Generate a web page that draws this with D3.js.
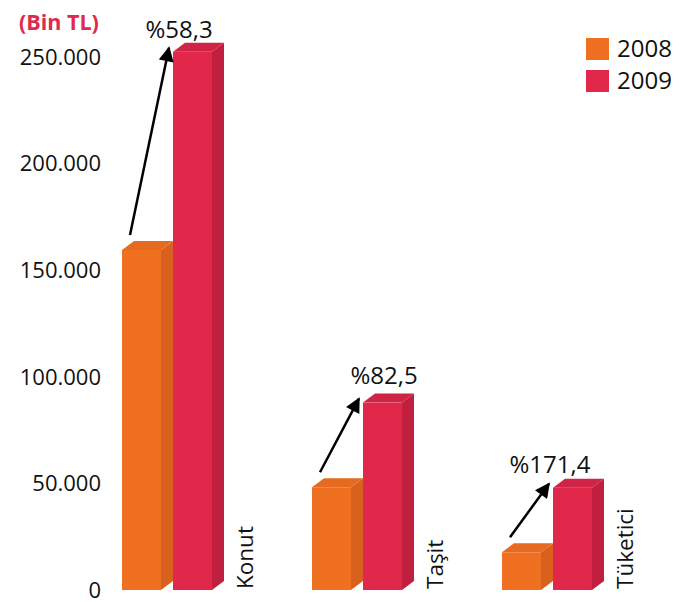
<!DOCTYPE html>
<html lang="tr">
<head>
    <meta charset="UTF-8">
    <title>Krediler</title>
    <script src="https://d3js.org/d3.v7.min.js"></script>
    <style>
        body { margin: 0; background: #fff; }
        text { font-family: "Open Sans", sans-serif; fill: #111; }
    </style>
</head>
<body>
    <svg id="chart" width="680" height="602"></svg>

    <script>
        // values in thousand TL
        const categories = ["Konut", "Taşit", "Tüketici"];
        const years = ["2008", "2009"];
        const values2008 = [159500, 48200, 17700];
        const values2009 = [252500, 87900, 48000];
        const changeLabels = ["%58,3", "%82,5", "%171,4"];
        const yTicks = [0, 50000, 100000, 150000, 200000, 250000];

        // small nudges for the growth labels
        const labelDx = [6, 21, -3];
        const labelDy = [-14, -19, -15];

        const colors = {
            "2008": { front: "#f07022", side: "#d8621d", top: "#e66a1f" },
            "2009": { front: "#e2284a", side: "#c01f3f", top: "#cf2445" }
        };

        const svg = d3.select("#chart");
        const baseY = 590;
        const depthX = 12, depthY = -9;

        const y = d3.scaleLinear().domain([0, 250000]).range([baseY, 57]);
        const x0 = d3.scaleBand().domain(categories).range([122, 122 + 3 * 190]).padding(0);
        const x1 = d3.scaleBand().domain(years).range([0, 102]).padding(0);
        const barW = x1.bandwidth() - depthX;

        const tr = d3.formatLocale({ decimal: ",", thousands: ".", grouping: [3], currency: ["", ""] });
        const fmt = tr.format(",d");

        // y labels
        svg.append("g").selectAll("text").data(yTicks).join("text")
            .attr("x", 101)
            .attr("y", d => y(d))
            .attr("dy", "0.35em")
            .attr("text-anchor", "end")
            .style("font-size", "22px")
            .text(d => fmt(d));

        svg.append("text")
            .attr("x", 19)
            .attr("y", 30)
            .style("font-size", "21.5px")
            .style("font-weight", "bold")
            .style("fill", "#e0294c")
            .text("(Bin TL)");

        const rows = categories.map((c, i) => ({
            cat: c,
            bars: [
                { year: "2008", value: values2008[i] },
                { year: "2009", value: values2009[i] }
            ]
        }));

        const groups = svg.append("g").selectAll("g").data(rows).join("g")
            .attr("transform", d => `translate(${x0(d.cat)},0)`);

        const bars = groups.selectAll("g.bar").data(d => d.bars).join("g")
            .attr("class", "bar");

        // side face
        bars.append("path")
            .attr("d", d => {
                const xl = x1(d.year) + barW, yt = y(d.value);
                return `M${xl},${yt}L${xl + depthX},${yt + depthY}L${xl + depthX},${baseY + depthY}L${xl},${baseY}Z`;
            })
            .style("fill", d => colors[d.year].side);

        // top face
        bars.append("path")
            .attr("d", d => {
                const xl = x1(d.year), yt = y(d.value);
                return `M${xl},${yt}L${xl + barW},${yt}L${xl + barW + depthX},${yt + depthY}L${xl + depthX},${yt + depthY}Z`;
            })
            .style("fill", d => colors[d.year].top);

        // front face
        bars.append("rect")
            .attr("x", d => x1(d.year))
            .attr("y", d => y(d.value))
            .attr("width", barW)
            .attr("height", d => baseY - y(d.value))
            .style("fill", d => colors[d.year].front);

        // category names, vertical
        groups.append("text")
            .attr("transform", `translate(123,${baseY - 1}) rotate(-90)`)
            .attr("dy", "0.35em")
            .style("font-size", "22.5px")
            .text(d => d.cat);

        // arrows
        const defs = svg.append("defs");
        defs.append("marker")
            .attr("id", "head")
            .attr("viewBox", "0 0 10 10")
            .attr("refX", 9)
            .attr("refY", 5)
            .attr("markerWidth", 18)
            .attr("markerHeight", 15)
            .attr("markerUnits", "userSpaceOnUse")
            .attr("orient", "auto")
            .append("path")
            .attr("d", "M0,0L10,5L0,10Z")
            .style("fill", "#000");

        groups.append("line")
            .attr("x1", d => x1("2008") + 8)
            .attr("y1", d => y(d.bars[0].value) - 15)
            .attr("x2", d => x1("2009") - 4)
            .attr("y2", d => y(d.bars[1].value) - 4)
            .style("stroke", "#000")
            .style("stroke-width", 2.5)
            .attr("marker-end", "url(#head)");

        groups.append("text")
            .attr("x", (d, i) => x1("2009") + labelDx[i])
            .attr("y", (d, i) => y(d.bars[1].value) + labelDy[i])
            .attr("text-anchor", "middle")
            .style("font-size", "24px")
            .text((d, i) => changeLabels[i]);

        // legend
        const legend = svg.append("g").selectAll("g").data(years).join("g")
            .attr("transform", (d, i) => `translate(586,${38 + i * 32})`);
        legend.append("rect")
            .attr("width", 23)
            .attr("height", 22)
            .style("fill", d => colors[d].front);
        legend.append("text")
            .attr("x", 31)
            .attr("y", 11)
            .attr("dy", "0.35em")
            .style("font-size", "24px")
            .text(d => d);
    </script>
</body>
</html>
